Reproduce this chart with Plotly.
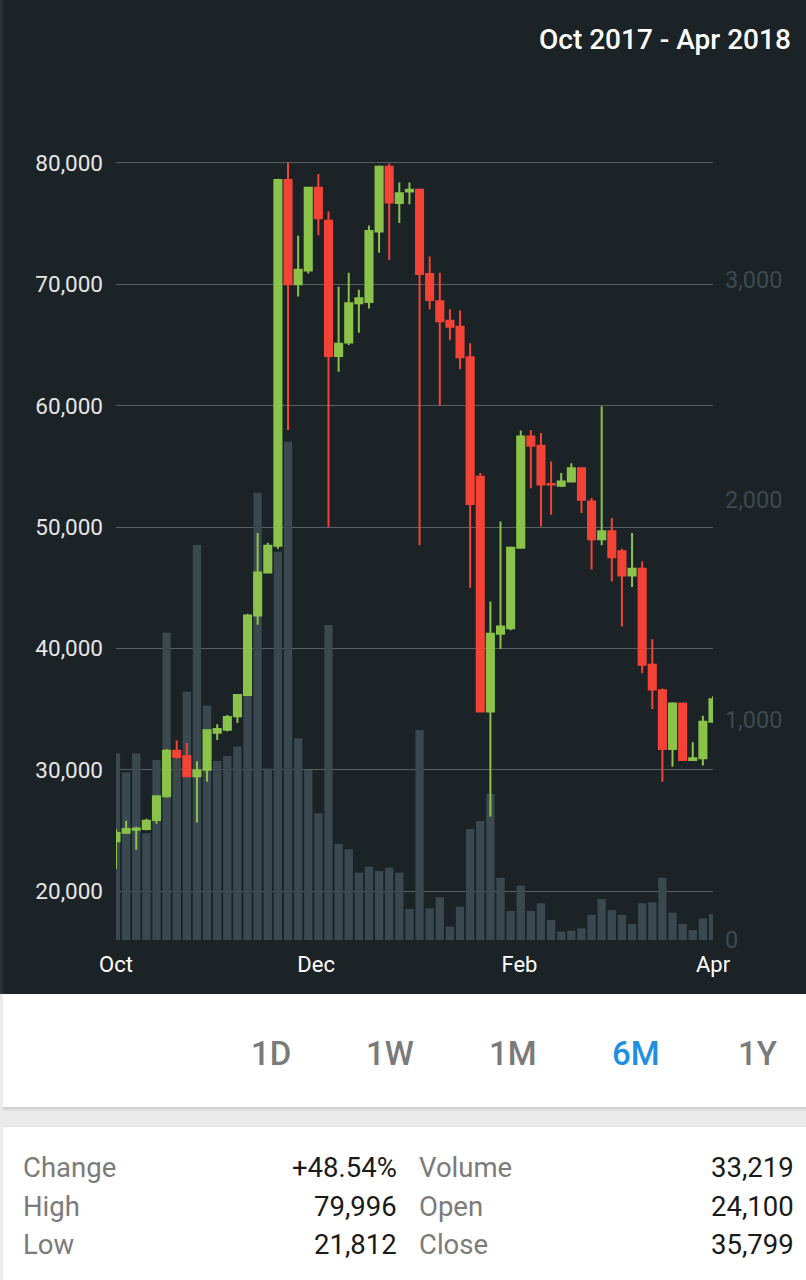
import plotly.graph_objects as go
import pandas as pd

# ---------------- data ----------------
start_date = "2017-10-01"
end_date = "2018-04-01"
n_periods = 60

opens = [24100, 24800, 25050, 25100, 25850, 27800, 31550, 31100, 29450, 30000,
         33050, 33300, 34400, 36150, 42700, 46250, 48450, 78600, 70000, 71150,
         77950, 75250, 64100, 65200, 68450, 68550, 74350, 79700, 76700, 77650,
         77800, 70850, 68600, 67000, 66500, 64000, 54150, 34800, 41200, 41650,
         48300, 57450, 56700, 53550, 53400, 53750, 54850, 52100, 49000, 49650,
         48000, 46000, 46550, 38650, 36550, 31700, 35450, 30800, 30950, 33950]
highs = [25100, 25800, 25300, 25950, 27900, 31700, 32400, 32200, 30700, 33300,
         33750, 34500, 36200, 42850, 49500, 48700, 78700, 79996, 74000, 78000,
         79100, 76000, 69800, 70950, 69550, 74850, 79800, 79950, 78400, 78400,
         77900, 72300, 70950, 67950, 67850, 65150, 54450, 43850, 50450, 48400,
         57950, 58000, 57750, 55400, 54450, 55250, 54900, 52400, 59950, 50750,
         48200, 49500, 47150, 40750, 36700, 35550, 35500, 32250, 34450, 36050]
lows = [21812, 24700, 23400, 25000, 25550, 27700, 30900, 29400, 25650, 29000,
        32450, 33150, 33850, 36100, 41950, 46200, 48200, 58000, 69000, 70900,
        74050, 50000, 62800, 65000, 66000, 68000, 72600, 72000, 75050, 76600,
        48500, 67950, 60000, 65400, 63000, 45000, 34800, 26150, 39950, 41500,
        48250, 53200, 50050, 51000, 53300, 53700, 51150, 46500, 48500, 45500,
        41800, 45050, 37950, 35000, 29000, 30250, 30750, 30750, 30350, 33850]
closes = [24800, 25100, 25150, 25800, 27800, 31550, 31050, 29450, 29950, 33250,
          33350, 34350, 36150, 42700, 46250, 48450, 78600, 70000, 71200, 77950,
          75450, 64100, 65100, 68450, 68850, 74400, 79700, 76750, 77500, 77800,
          70850, 68700, 66950, 66500, 64000, 51900, 34800, 41200, 41800, 48300,
          57450, 56700, 53500, 53500, 53750, 54850, 52250, 49000, 49650, 47500,
          46000, 46550, 38650, 36600, 31700, 35450, 30800, 30950, 33950, 35799]
volumes = [848, 761, 848, 485, 818, 1397, 825, 1129, 1795, 1065,
           814, 836, 879, 1114, 2033, 780, 1765, 2265, 917, 773,
           576, 1432, 436, 412, 306, 333, 314, 329, 306, 141,
           955, 144, 194, 61, 152, 505, 541, 664, 283, 132,
           247, 132, 167, 91, 38, 42, 53, 114, 186, 136,
           114, 73, 167, 171, 283, 124, 73, 45, 98, 117]

month_ticks = ["2017-10-01", "2017-12-01", "2018-02-01", "2018-04-01"]
month_labels = ["Oct", "Dec", "Feb", "Apr"]
price_ticks = [20000, 30000, 40000, 50000, 60000, 70000, 80000]
volume_ticks = [0, 1000, 2000, 3000]

title_text = "Oct 2017 - Apr 2018"
periods = ["1D", "1W", "1M", "6M", "1Y"]
active_period = "6M"
stat_labels_left = ["Change", "High", "Low"]
stat_values_left = ["+48.54%", "79,996", "21,812"]
stat_labels_right = ["Volume", "Open", "Close"]
stat_values_right = ["33,219", "24,100", "35,799"]

dates = pd.date_range(start_date, end_date, periods=n_periods)

# ---------------- styling ----------------
W, H = 806, 1280
ML, MR, MT, MB = 116, 93, 150, 340
PW = W - ML - MR
PH = H - MT - MB

DARK = "#1c2326"
GREEN = "#8bc34a"
RED = "#f44336"
VOLC = "#3a4850"
GRID = "#596064"
FONT = "Roboto"


def px(x):
    return (x - ML) / PW


def py(y):
    return (H - MB - y) / PH


def rect(x0, y0, x1, y1, color, layer="below"):
    return dict(type="rect", xref="paper", yref="paper",
                x0=px(x0), x1=px(x1), y0=py(y1), y1=py(y0),
                fillcolor=color, line=dict(width=0), layer=layer)


fig = go.Figure()

fig.add_trace(go.Bar(
    x=dates, y=volumes, yaxis="y",
    marker=dict(color=VOLC, line=dict(width=0)),
    hoverinfo="skip", showlegend=False,
))

fig.add_trace(go.Candlestick(
    x=dates, open=opens, high=highs, low=lows, close=closes, yaxis="y2",
    increasing=dict(line=dict(color=GREEN, width=2), fillcolor=GREEN),
    decreasing=dict(line=dict(color=RED, width=2), fillcolor=RED),
    whiskerwidth=0, hoverinfo="skip", showlegend=False,
))

shapes = [
    rect(0, 0, W, 994, DARK),
    rect(0, 0, 3, 994, "#2c3336"),
    rect(3, 994, W, 1111, "#e0e0e0"),
    rect(3, 994, W, 1109, "#d2d2d2"),
    rect(3, 994, W, 1107, "#ffffff"),
    rect(3, 1126, W, 1280, "#e0e0e0"),
    rect(3, 1127, W, 1280, "#ffffff"),
]

annotations = [
    dict(text=title_text, x=px(793), y=py(40), xanchor="right", yanchor="middle",
         font=dict(family=FONT, size=28, color="#ffffff", weight=500)),
]

period_x = [271, 390, 513, 636, 757]
for label, xc in zip(periods, period_x):
    annotations.append(dict(
        text=label, x=px(xc), y=py(1053), xanchor="center", yanchor="middle",
        font=dict(family=FONT, size=33, weight=500,
                  color="#1e8fe3" if label == active_period else "#7a7a7a")))

row_y = [1167, 1206, 1244]
for i, yv in enumerate(row_y):
    annotations.append(dict(text=stat_labels_left[i], x=px(21), y=py(yv),
                            xanchor="left", yanchor="middle",
                            font=dict(family=FONT, size=27.5, color="#7b7b7b")))
    annotations.append(dict(text=stat_values_left[i], x=px(399), y=py(yv),
                            xanchor="right", yanchor="middle",
                            font=dict(family=FONT, size=27.5, color="#1a1a1a")))
    annotations.append(dict(text=stat_labels_right[i], x=px(417), y=py(yv),
                            xanchor="left", yanchor="middle",
                            font=dict(family=FONT, size=27.5, color="#7b7b7b")))
    annotations.append(dict(text=stat_values_right[i], x=px(796), y=py(yv),
                            xanchor="right", yanchor="middle",
                            font=dict(family=FONT, size=27.5, color="#1a1a1a")))
for a in annotations:
    a.update(xref="paper", yref="paper", showarrow=False)

fig.update_layout(
    width=W, height=H,
    margin=dict(l=ML, r=MR, t=MT, b=MB, pad=0),
    paper_bgcolor="#ebebeb",
    plot_bgcolor=DARK,
    showlegend=False,
    hovermode=False,
    dragmode=False,
    bargap=0.18,
    boxgap=0.3,
    boxgroupgap=0,
    font=dict(family=FONT),
    shapes=shapes,
    annotations=annotations,
    xaxis=dict(
        type="date", range=[start_date, end_date],
        tickvals=month_ticks, ticktext=month_labels,
        showgrid=False, zeroline=False, showline=False, ticks="",
        ticklabelstandoff=9,
        tickfont=dict(family=FONT, size=22, color="#ffffff"),
        rangeslider=dict(visible=False), fixedrange=True,
    ),
    yaxis=dict(
        side="right", range=[0, 3591],
        tickvals=volume_ticks, tickformat=",d",
        showgrid=False, zeroline=False, showline=False, ticks="",
        ticklabelstandoff=11,
        tickfont=dict(family=FONT, size=23.5, color="#3e4a50"),
        fixedrange=True,
    ),
    yaxis2=dict(
        overlaying="y", side="left", range=[15962, 81071],
        tickvals=price_ticks, tickformat=",d",
        showgrid=True, gridcolor=GRID, gridwidth=1,
        zeroline=False, showline=False, ticks="",
        ticklabelstandoff=12,
        tickfont=dict(family=FONT, size=22.5, color="#e6e6e6"),
        fixedrange=True,
    ),
)

fig.write_html("out.html", config={"displayModeBar": False})
